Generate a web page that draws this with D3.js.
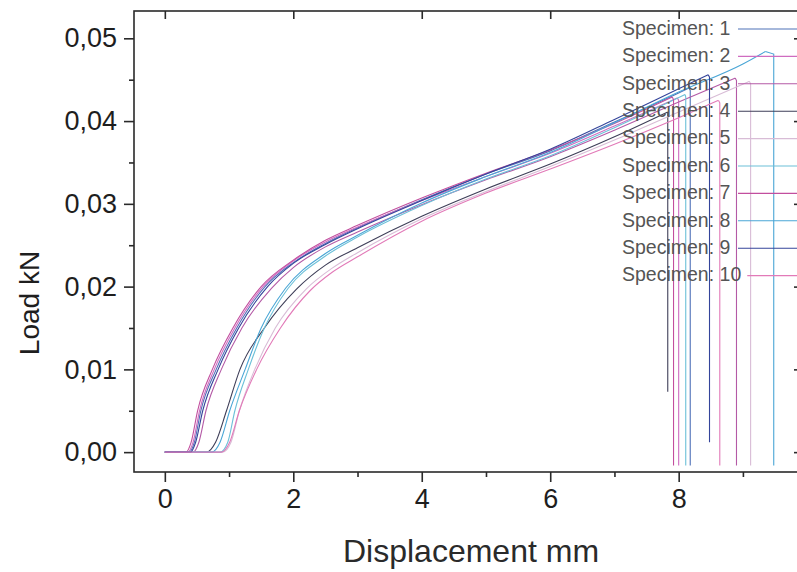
<!DOCTYPE html>
<html>
<head>
<meta charset="utf-8">
<script src="https://cdn.jsdelivr.net/npm/d3@7"></script>
<style>
	body { margin: 0; background: #fff; }
	svg { display: block; font-family: "Liberation Sans", Arial, sans-serif; }
</style>
</head>
<body>
<svg id="chart" width="797" height="572"></svg>
<script>
// specimen names and line colours
var specimens = ["Specimen: 1", "Specimen: 2", "Specimen: 3", "Specimen: 4", "Specimen: 5",
	"Specimen: 6", "Specimen: 7", "Specimen: 8", "Specimen: 9", "Specimen: 10"];
var colors = ["#4f72b8", "#cf6cc0", "#b45aa6", "#3e3e58", "#d8bcd6",
	"#6cc0d8", "#c24e9e", "#4aa6d6", "#34449a", "#e27ab8"];

// load-displacement curves [mm, kN]
var curve1 = [[0,0],[0.38,0],[0.46,0.0012],[0.56,0.005],[0.8,0.01],[1.12,0.015],[1.56,0.02],[2.0,0.0229],[2.5,0.0252],[3,0.0271],[4,0.0305],[5,0.0336],[6,0.0364],[7,0.0399],[8,0.0434],[8.16,0.044]];
var curve2 = [[0,0],[0.36,0],[0.44,0.0012],[0.54,0.005],[0.77,0.01],[1.09,0.015],[1.53,0.02],[2.0,0.0231],[2.5,0.0254],[3,0.0272],[4,0.0304],[5,0.0333],[6,0.0361],[7,0.0394],[7.98,0.0428]];
var curve3 = [[0,0],[0.44,0],[0.53,0.0012],[0.64,0.005],[0.88,0.01],[1.2,0.015],[1.66,0.0198],[2.0,0.0223],[2.5,0.0248],[3,0.0266],[4,0.0299],[5,0.0329],[6,0.0357],[7,0.0389],[8,0.0423],[8.88,0.0452]];
var curve4 = [[0,0],[0.65,0],[0.79,0.0012],[0.96,0.005],[1.17,0.01],[1.55,0.015],[2.05,0.0197],[2.5,0.0226],[3,0.0247],[4,0.0285],[5,0.0318],[6,0.0348],[7,0.0381],[7.83,0.0411]];
var curve5 = [[0,0],[0.9,0],[1.03,0.0012],[1.16,0.005],[1.4,0.01],[1.72,0.015],[2.2,0.0197],[2.6,0.0222],[3,0.0241],[4,0.0282],[5,0.0315],[6,0.0345],[7,0.0377],[8,0.0411],[9.1,0.0448]];
var curve6 = [[0,0],[0.86,0],[0.98,0.0012],[1.09,0.005],[1.3,0.01],[1.55,0.015],[1.92,0.0198],[2.5,0.0237],[3,0.026],[4,0.0298],[5,0.033],[6,0.0358],[7,0.0392],[8.1,0.0432]];
var curve7 = [[0,0],[0.33,0],[0.41,0.0012],[0.51,0.005],[0.74,0.01],[1.06,0.015],[1.5,0.02],[2.0,0.0232],[2.5,0.0256],[3,0.0274],[4,0.0307],[5,0.0337],[6,0.0365],[7,0.0397],[7.9,0.0429]];
var curve8 = [[0,0],[0.73,0],[0.86,0.0012],[1.01,0.005],[1.25,0.01],[1.5,0.015],[1.88,0.0198],[2.5,0.024],[3,0.0262],[4,0.0301],[5,0.0333],[6,0.0362],[7,0.0398],[8,0.0435],[9,0.0469],[9.35,0.0484]];
var curve9 = [[0,0],[0.4,0],[0.48,0.0012],[0.59,0.005],[0.83,0.01],[1.15,0.015],[1.6,0.02],[2.0,0.0228],[2.5,0.0251],[3,0.027],[4,0.0304],[5,0.0336],[6,0.0366],[7,0.0402],[8,0.0439],[8.46,0.0456]];
var curve10 = [[0,0],[0.88,0],[1.01,0.0012],[1.16,0.005],[1.43,0.01],[1.8,0.015],[2.26,0.0195],[2.6,0.0217],[3,0.0236],[4,0.0279],[5,0.0313],[6,0.0342],[7,0.0372],[8,0.0404],[8.62,0.0425]];
var curves = [curve1, curve2, curve3, curve4, curve5, curve6, curve7, curve8, curve9, curve10];

// where each specimen breaks: [displacement, load at end of the drop]
var breakEnds = [[8.18,-0.0016],[8.0,-0.0016],[8.9,-0.0016],[7.83,0.0073],[9.12,-0.0016],
	[8.11,-0.0016],[7.92,-0.0016],[9.48,-0.0016],[8.48,0.0012],[8.64,-0.0016]];

// tick values
var xMajor = [0, 2, 4, 6, 8];
var xMinor = [1, 3, 5, 7, 9];
var yMajor = [0, 0.01, 0.02, 0.03, 0.04, 0.05];
var yMinor = [0.005, 0.015, 0.025, 0.035, 0.045];

var svg = d3.select("#chart");
var plotLeft = 134, plotRight = 802, plotTop = 11, plotBottom = 472;

var x = d3.scaleLinear().domain([-0.48, 9.92]).range([plotLeft, plotRight]);
var y = d3.scaleLinear().domain([-0.0024, 0.0533]).range([plotBottom, plotTop]);

var comma = d3.formatLocale({decimal: ",", thousands: ".", grouping: [3], currency: ["", ""]});
var fmtY = comma.format(".2f");

/*
Curves
*/
var line = d3.line().x(function(d) { return x(d[0]); }).y(function(d) { return y(d[1]); }).curve(d3.curveMonotoneX);
var plot = svg.append("g");
curves.forEach(function(c, i) {
	plot.append("path").attr("d", line(c)).attr("fill", "none")
		.attr("stroke", colors[i]).attr("stroke-width", 1.1);
	var last = c[c.length - 1], end = breakEnds[i];
	plot.append("path").attr("d", "M" + x(last[0]) + "," + y(last[1]) + "L" + x(end[0]) + "," + y(last[1] - 0.0003) + "L" + x(end[0]) + "," + y(end[1]))
		.attr("fill", "none").attr("stroke", colors[i]).attr("stroke-width", 1.1);
});

/*
Axes
*/
var axisColor = "#2a2a2a";
var gx = svg.append("g").attr("transform", "translate(0," + plotBottom + ")")
	.call(d3.axisBottom(x).tickValues(xMajor).tickSize(10).tickPadding(4).tickFormat(d3.format("d")));
svg.append("g").attr("transform", "translate(0," + plotBottom + ")")
	.call(d3.axisBottom(x).tickValues(xMinor).tickSize(5).tickFormat(""));
var gy = svg.append("g").attr("transform", "translate(" + plotLeft + ",0)")
	.call(d3.axisLeft(y).tickValues(yMajor).tickSize(10).tickPadding(7).tickFormat(fmtY));
svg.append("g").attr("transform", "translate(" + plotLeft + ",0)")
	.call(d3.axisLeft(y).tickValues(yMinor).tickSize(5).tickFormat(""));
svg.append("g").attr("transform", "translate(0," + plotTop + ")")
	.call(d3.axisTop(x).tickValues(xMajor).tickSize(-8).tickFormat(""));
svg.append("g").attr("transform", "translate(" + plotRight + ",0)")
	.call(d3.axisRight(y).tickValues(yMajor).tickSize(-8).tickFormat(""));
svg.append("rect").attr("x", plotLeft).attr("y", plotTop).attr("width", plotRight - plotLeft).attr("height", plotBottom - plotTop)
	.attr("fill", "none").attr("stroke", axisColor).attr("stroke-width", 1.6);

svg.selectAll(".domain").remove();
svg.selectAll(".tick line").attr("stroke", axisColor).attr("stroke-width", 1.6);
svg.selectAll(".tick text").attr("fill", "#1e1e1e").style("font-size", "27px");
gx.selectAll(".tick text").attr("dy", "0.8em");

svg.append("text").attr("x", 471).attr("y", 562).attr("text-anchor", "middle")
	.attr("fill", "#2a2a2a").style("font-size", "32px").text("Displacement mm");
svg.append("text").attr("transform", "translate(39,303) rotate(-90)").attr("text-anchor", "middle")
	.attr("fill", "#1e1e1e").style("font-size", "28px").text("Load kN");

/*
Legend
*/
var legend = svg.append("g");
specimens.forEach(function(s, i) {
	var ly = 28 + i * 27.4;
	var t = legend.append("text").attr("x", 622).attr("y", ly).attr("dy", "0.35em")
		.attr("fill", "#555").style("font-size", "19.5px").text(s);
	var x0 = Math.max(738, 622 + t.node().getComputedTextLength() + 6);
	legend.append("line").attr("x1", x0).attr("x2", 800).attr("y1", ly + 1).attr("y2", ly + 1)
		.attr("stroke", colors[i]).attr("stroke-width", 1.1);
});
</script>
</body>
</html>
